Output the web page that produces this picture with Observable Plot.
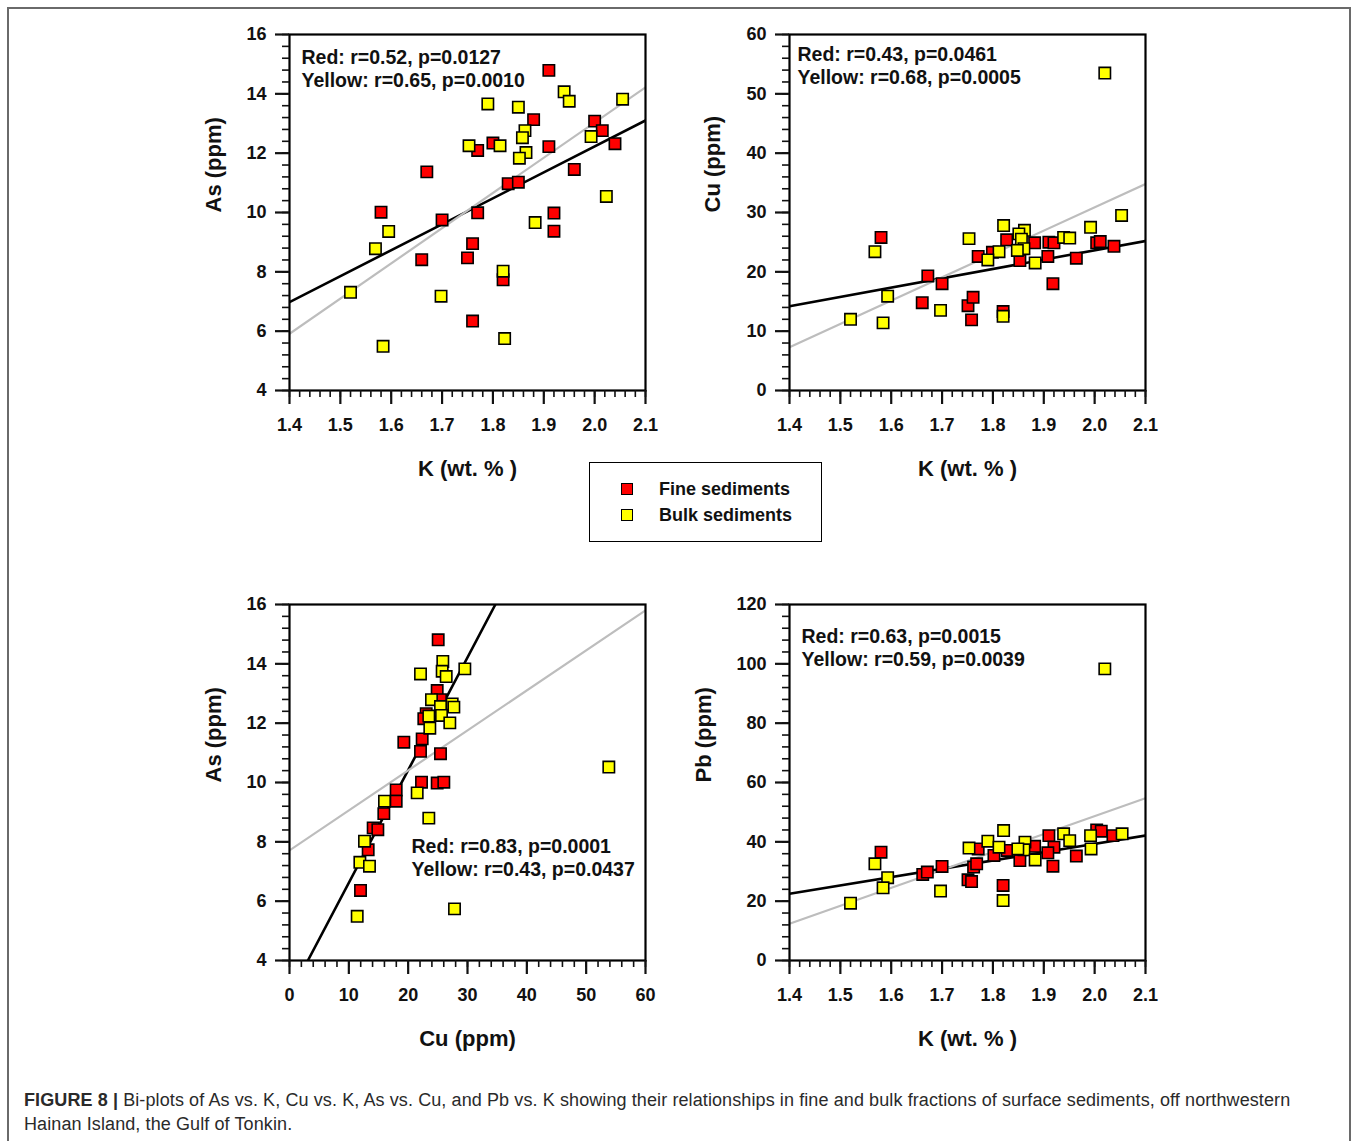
<!DOCTYPE html>
<html>
<head>
<meta charset="utf-8">
<script src="https://cdn.jsdelivr.net/npm/d3@7"></script>
<script src="https://cdn.jsdelivr.net/npm/@observablehq/plot@0.6"></script>
<style>
  html, body { margin: 0; padding: 0; background: #fff; }
  body { width: 1358px; height: 1141px; position: relative; overflow: hidden; font-family: "Liberation Sans", Arial, sans-serif; }
  #border { position: absolute; left: 7px; top: 7px; width: 1344px; height: 1160px; border: 2px solid #6a6a6a; box-sizing: border-box; }
  .panel { position: absolute; }
  #legend { position: absolute; left: 589px; top: 462px; width: 233px; height: 80px; border: 1.5px solid #000; box-sizing: border-box; background: #fff; }
  .lg-item { position: absolute; left: 0; font-weight: bold; font-size: 18px; color: #111; }
  .lg-sw { position: absolute; width: 10px; height: 10px; border: 1.5px solid #000; }
  .lg-tx { position: absolute; white-space: nowrap; }
  #caption { position: absolute; left: 24px; top: 1088px; width: 1320px; font-family: "Liberation Sans", Arial, sans-serif; font-size: 18px; letter-spacing: 0.1px; line-height: 24px; color: #2a2a2a; }
  #caption b { font-weight: bold; }
</style>
</head>
<body>
<div id="border"></div>
<div id="p1" class="panel"></div>
<div id="p2" class="panel"></div>
<div id="p3" class="panel"></div>
<div id="p4" class="panel"></div>
<div id="legend">
  <div class="lg-sw" style="left:31px; top:20px; background:#ff0000;"></div>
  <div class="lg-tx lg-item" style="left:69px; top:16px;">Fine sediments</div>
  <div class="lg-sw" style="left:31px; top:46px; background:#ffff00;"></div>
  <div class="lg-tx lg-item" style="left:69px; top:42px;">Bulk sediments</div>
</div>
<div id="caption"><b>FIGURE 8 |</b> Bi-plots of As vs. K, Cu vs. K, As vs. Cu, and Pb vs. K showing their relationships in fine and bulk fractions of surface sediments, off northwestern<br>Hainan Island, the Gulf of Tonkin.</div>
<script>
// ---------- Tick labels ----------
const kTicks = [1.4, 1.5, 1.6, 1.7, 1.8, 1.9, 2.0, 2.1];
const asTicks = [4, 6, 8, 10, 12, 14, 16];
const cuTicksY = [0, 10, 20, 30, 40, 50, 60];
const cuTicksX = [0, 10, 20, 30, 40, 50, 60];
const pbTicks = [0, 20, 40, 60, 80, 100, 120];

// ---------- Panel A: As vs K ----------
const asK_fine_K  = [1.91, 1.88, 2.00, 2.015, 2.04, 1.80, 1.77, 1.91, 1.67, 1.96, 1.83, 1.85, 1.58, 1.77, 1.70, 1.92, 1.92, 1.76, 1.75, 1.66, 1.82, 1.76];
const asK_fine_As = [14.79, 13.13, 13.08, 12.76, 12.32, 12.34, 12.09, 12.22, 11.37, 11.45, 10.97, 11.02, 10.01, 9.99, 9.75, 9.98, 9.37, 8.95, 8.47, 8.41, 7.73, 6.34];
const asK_bulk_K  = [1.79, 1.85, 1.94, 1.95, 2.055, 1.863, 1.858, 1.993, 1.753, 1.814, 1.865, 1.852, 2.023, 1.595, 1.883, 1.569, 1.82, 1.52, 1.698, 1.584, 1.823];
const asK_bulk_As = [13.66, 13.55, 14.07, 13.75, 13.82, 12.76, 12.52, 12.56, 12.25, 12.25, 12.02, 11.83, 10.54, 9.36, 9.66, 8.78, 8.02, 7.31, 7.18, 5.49, 5.75];
const asK_fit_x    = [1.4, 2.1];
const asK_fit_fine = [6.98, 13.10];
const asK_fit_bulk = [5.91, 14.22];

// ---------- Panel B: Cu vs K ----------
const cuK_fine_K  = [1.58, 1.672, 1.70, 1.661, 1.751, 1.761, 1.758, 1.82, 1.771, 1.799, 1.827, 1.853, 1.882, 1.91, 1.92, 1.908, 1.918, 1.964, 2.004, 2.011, 2.038];
const cuK_fine_Cu = [25.8, 19.3, 18.0, 14.8, 14.3, 15.7, 11.9, 13.3, 22.6, 23.3, 25.4, 21.9, 24.9, 25.0, 24.9, 22.6, 18.0, 22.3, 24.9, 25.1, 24.3];
const cuK_bulk_K  = [2.02, 2.053, 1.992, 1.821, 1.862, 1.851, 1.856, 1.939, 1.951, 1.753, 1.568, 1.812, 1.861, 1.848, 1.79, 1.883, 1.593, 1.697, 1.82, 1.52, 1.584];
const cuK_bulk_Cu = [53.5, 29.5, 27.5, 27.8, 27.0, 26.4, 25.5, 25.8, 25.7, 25.6, 23.4, 23.4, 23.9, 23.6, 22.0, 21.5, 15.9, 13.5, 12.5, 12.0, 11.4];
const cuK_fit_x    = [1.4, 2.1];
const cuK_fit_fine = [14.2, 25.2];
const cuK_fit_bulk = [7.3, 34.8];

// ---------- Panel C: As vs Cu ----------
const asCu_fine_Cu = [25.06, 24.89, 25.45, 23.04, 22.64, 22.36, 19.27, 22.08, 25.45, 22.25, 24.89, 26.01, 17.98, 17.98, 15.9, 14.1, 14.89, 13.26, 11.97];
const asCu_fine_As = [14.81, 13.10, 12.79, 12.32, 12.15, 11.47, 11.36, 11.05, 10.97, 10.01, 9.98, 10.01, 9.75, 9.37, 8.95, 8.47, 8.41, 7.73, 6.36];
const asCu_bulk_Cu = [25.84, 25.73, 22.08, 29.55, 26.41, 23.93, 27.42, 27.7, 25.45, 23.48, 25.62, 27.02, 23.65, 53.82, 21.52, 16.01, 23.48, 12.64, 11.86, 13.48, 11.41, 27.81];
const asCu_bulk_As = [14.08, 13.75, 13.66, 13.83, 13.57, 12.79, 12.65, 12.54, 12.56, 12.24, 12.26, 12.01, 11.83, 10.52, 9.65, 9.37, 8.80, 8.02, 7.31, 7.18, 5.49, 5.74];
const asCu_fit_fine_x = [3.1, 34.7];
const asCu_fit_fine_y = [4, 16];
const asCu_fit_bulk_x = [0, 60];
const asCu_fit_bulk_y = [7.71, 15.8];

// ---------- Panel D: Pb vs K ----------
const pbK_fine_K  = [1.58, 1.662, 1.671, 1.70, 1.751, 1.758, 1.762, 1.768, 1.771, 1.802, 1.828, 1.82, 1.853, 1.882, 1.91, 1.92, 1.908, 1.918, 1.964, 2.004, 2.013, 2.036];
const pbK_fine_Pb = [36.5, 29.0, 29.8, 31.7, 27.2, 26.6, 31.5, 32.6, 37.6, 35.4, 37.1, 25.3, 33.7, 38.5, 42.1, 38.2, 36.3, 31.8, 35.2, 44.0, 43.6, 42.1];
const pbK_bulk_K  = [2.02, 2.054, 1.992, 1.993, 1.939, 1.951, 1.821, 1.863, 1.861, 1.849, 1.79, 1.812, 1.753, 1.883, 1.568, 1.593, 1.584, 1.697, 1.52, 1.82];
const pbK_bulk_Pb = [98.3, 42.7, 42.1, 37.6, 42.7, 40.4, 43.8, 39.9, 37.3, 37.6, 40.2, 38.2, 37.9, 33.9, 32.6, 27.9, 24.5, 23.4, 19.3, 20.2];
const pbK_fit_x    = [1.4, 2.1];
const pbK_fit_fine = [22.5, 42.1];
const pbK_fit_bulk = [12.4, 54.7];

// ---------- Annotations ----------
const statsA = "Red: r=0.52, p=0.0127\nYellow: r=0.65, p=0.0010";
const statsB = "Red: r=0.43, p=0.0461\nYellow: r=0.68, p=0.0005";
const statsC = "Red: r=0.83, p=0.0001\nYellow: r=0.43, p=0.0437";
const statsD = "Red: r=0.63, p=0.0015\nYellow: r=0.59, p=0.0039";

const zipXY = (xs, ys) => xs.map((x, i) => ({x, y: ys[i]}));
const minors = (a, b, step) => d3.range(0, Math.round((b - a) / step) + 1).map(i => +(a + i * step).toFixed(4));

const W = 500, H = 480, ML = 110, MT = 20, MR = 34, MB = 104;
const FONT = "'Liberation Sans', Arial, sans-serif";

function panel(el, left, top, o) {
  const plot = Plot.plot({
    width: W, height: H,
    marginLeft: ML, marginTop: MT, marginRight: MR, marginBottom: MB,
    style: {fontFamily: FONT, fontSize: "18px", fontWeight: "bold", color: "#111", background: "transparent", overflow: "visible"},
    x: {domain: o.xDomain},
    y: {domain: o.yDomain},
    marks: [
      Plot.line(zipXY(o.fitFineX, o.fitFineY), {x: "x", y: "y", stroke: "#000", strokeWidth: 2.6, clip: true}),
      Plot.line(zipXY(o.fitBulkX, o.fitBulkY), {x: "x", y: "y", stroke: "#bdbdbd", strokeWidth: 2.2, clip: true}),
      Plot.dot(zipXY(o.fineX, o.fineY), {x: "x", y: "y", symbol: "square", r: 6.4, fill: "#ff0000", stroke: "#000", strokeWidth: 1.6}),
      Plot.dot(zipXY(o.bulkX, o.bulkY), {x: "x", y: "y", symbol: "square", r: 6.4, fill: "#ffff00", stroke: "#000", strokeWidth: 1.6}),
      Plot.frame({stroke: "#000", strokeWidth: 2.2}),
      Plot.axisX(o.xTicks, {tickSize: 14, tickPadding: 14, strokeWidth: 2.2, label: null, tickFormat: o.xFormat, fontSize: 18}),
      Plot.axisX(o.xMinor, {tickSize: 7, strokeWidth: 1.6, label: null, tickFormat: () => ""}),
      Plot.axisY(o.yTicks, {tickSize: 14, tickPadding: 9, strokeWidth: 2.2, label: null, tickFormat: d => String(d), fontSize: 18}),
      Plot.axisY(o.yMinor, {tickSize: 7, strokeWidth: 1.6, label: null, tickFormat: () => ""}),
      Plot.text([o.yLabel], {frameAnchor: "left", dx: o.yLabelDx, rotate: -90, fontSize: 22, fontWeight: "bold", fill: "#111"}),
      Plot.text([o.xLabel], {frameAnchor: "bottom", dy: 85, fontSize: 22, fontWeight: "bold", fill: "#111"}),
      Plot.text([o.stats], {frameAnchor: "top-left", textAnchor: "start", lineAnchor: "top", dx: o.statsDx, dy: o.statsDy, fontSize: 19.5, fontWeight: "bold", lineHeight: 1.18, fill: "#111"})
    ]
  });
  const host = document.getElementById(el);
  host.style.left = (left - ML) + "px";
  host.style.top = (top - MT) + "px";
  host.appendChild(plot);
}

const fmt1 = d3.format(".1f");

panel("p1", 289, 34, {
  xDomain: [1.4, 2.1], yDomain: [4, 16],
  xTicks: kTicks, xMinor: minors(1.4, 2.1, 0.02), xFormat: fmt1,
  yTicks: asTicks, yMinor: minors(4, 16, 0.4),
  fineX: asK_fine_K, fineY: asK_fine_As, bulkX: asK_bulk_K, bulkY: asK_bulk_As,
  fitFineX: asK_fit_x, fitFineY: asK_fit_fine, fitBulkX: asK_fit_x, fitBulkY: asK_fit_bulk,
  yLabel: "As (ppm)", yLabelDx: -76, xLabel: "K (wt. % )",
  stats: statsA, statsDx: 12, statsDy: 13
});

panel("p2", 789, 34, {
  xDomain: [1.4, 2.1], yDomain: [0, 60],
  xTicks: kTicks, xMinor: minors(1.4, 2.1, 0.02), xFormat: fmt1,
  yTicks: cuTicksY, yMinor: minors(0, 60, 2),
  fineX: cuK_fine_K, fineY: cuK_fine_Cu, bulkX: cuK_bulk_K, bulkY: cuK_bulk_Cu,
  fitFineX: cuK_fit_x, fitFineY: cuK_fit_fine, fitBulkX: cuK_fit_x, fitBulkY: cuK_fit_bulk,
  yLabel: "Cu (ppm)", yLabelDx: -77, xLabel: "K (wt. % )",
  stats: statsB, statsDx: 8, statsDy: 10
});

panel("p3", 289, 604, {
  xDomain: [0, 60], yDomain: [4, 16],
  xTicks: cuTicksX, xMinor: minors(0, 60, 2), xFormat: d => String(d),
  yTicks: asTicks, yMinor: minors(4, 16, 0.4),
  fineX: asCu_fine_Cu, fineY: asCu_fine_As, bulkX: asCu_bulk_Cu, bulkY: asCu_bulk_As,
  fitFineX: asCu_fit_fine_x, fitFineY: asCu_fit_fine_y, fitBulkX: asCu_fit_bulk_x, fitBulkY: asCu_fit_bulk_y,
  yLabel: "As (ppm)", yLabelDx: -76, xLabel: "Cu (ppm)",
  stats: statsC, statsDx: 122, statsDy: 232
});

panel("p4", 789, 604, {
  xDomain: [1.4, 2.1], yDomain: [0, 120],
  xTicks: kTicks, xMinor: minors(1.4, 2.1, 0.02), xFormat: fmt1,
  yTicks: pbTicks, yMinor: minors(0, 120, 4),
  fineX: pbK_fine_K, fineY: pbK_fine_Pb, bulkX: pbK_bulk_K, bulkY: pbK_bulk_Pb,
  fitFineX: pbK_fit_x, fitFineY: pbK_fit_fine, fitBulkX: pbK_fit_x, fitBulkY: pbK_fit_bulk,
  yLabel: "Pb (ppm)", yLabelDx: -86, xLabel: "K (wt. % )",
  stats: statsD, statsDx: 12, statsDy: 22
});
</script>
</body>
</html>
